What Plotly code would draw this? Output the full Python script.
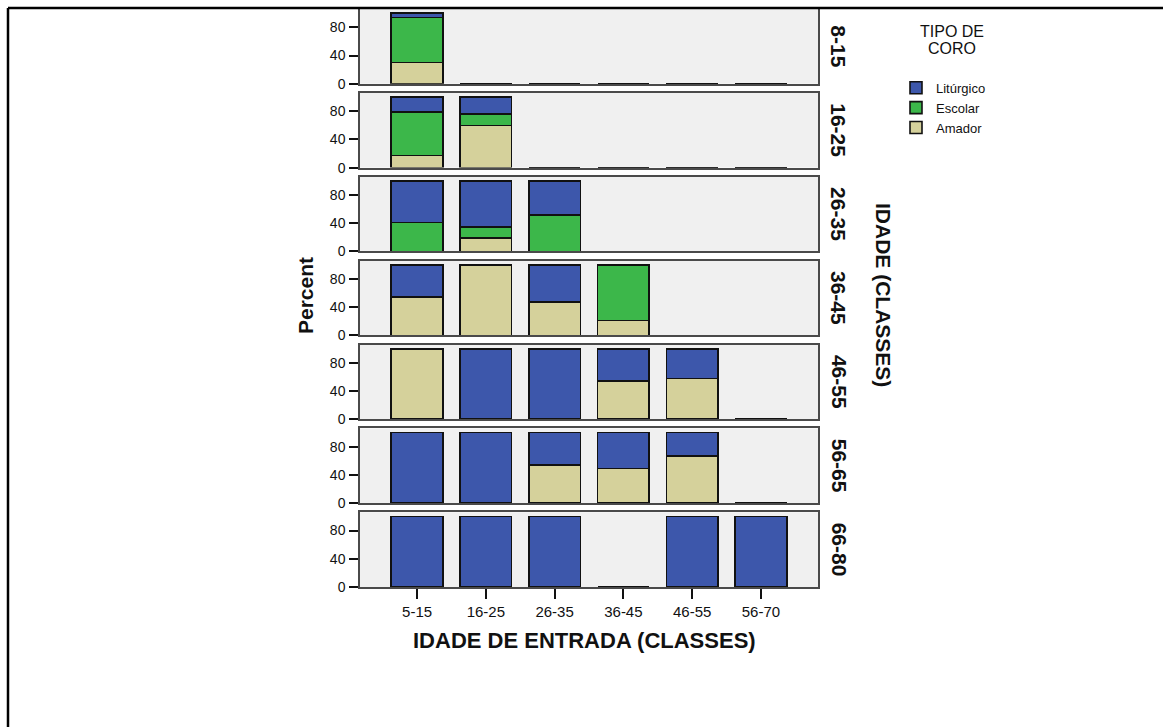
import plotly.graph_objects as go

# ---- data ----
categories = ["5-15", "16-25", "26-35", "36-45", "46-55", "56-70"]   # IDADE DE ENTRADA (CLASSES)
rows = ["8-15", "16-25", "26-35", "36-45", "46-55", "56-65", "66-80"]  # IDADE (CLASSES)
series_names = ["Amador", "Escolar", "Litúrgico"]

amador = [
    [30, 0, 0, 0, 0, 0],
    [17, 60, 0, 0, 0, 0],
    [0, 19, 0, 0, 0, 0],
    [54, 100, 47, 21, 0, 0],
    [100, 0, 0, 54, 58, 0],
    [0, 0, 54, 49, 67, 0],
    [0, 0, 0, 0, 0, 0],
]
escolar = [
    [64, 0, 0, 0, 0, 0],
    [62, 16, 0, 0, 0, 0],
    [41, 16, 52, 0, 0, 0],
    [0, 0, 0, 79, 0, 0],
    [0, 0, 0, 0, 0, 0],
    [0, 0, 0, 0, 0, 0],
    [0, 0, 0, 0, 0, 0],
]
liturgico = [
    [6, 0, 0, 0, 0, 0],
    [21, 24, 0, 0, 0, 0],
    [59, 65, 48, 0, 0, 0],
    [46, 0, 53, 0, 0, 0],
    [0, 100, 100, 46, 42, 0],
    [100, 100, 46, 51, 33, 0],
    [100, 100, 100, 0, 100, 100],
]
y_ticks = [0, 40, 80]

colors = {"Amador": "#d5d19b", "Escolar": "#3cb74a", "Litúrgico": "#3d57ab"}
values = {"Amador": amador, "Escolar": escolar, "Litúrgico": liturgico}

# ---- geometry (pixels) ----
W, H = 1163, 727
L, R, T, B = 360, 818, 7, 587
pw, ph = R - L, B - T
panel_h = 75
pitch = (ph - panel_h) / 6.0


def px_x(px):
    return (px - L) / pw


def px_y(py):
    return (B - py) / ph


fig = go.Figure()
font = "Liberation Sans, Arial, sans-serif"

for i, rname in enumerate(rows):
    ax = "" if i == 0 else str(i + 1)
    for s in series_names:
        fig.add_trace(go.Bar(
            x=categories, y=values[s][i], name=s,
            xaxis="x" + ax, yaxis="y" + ax,
            marker=dict(color=colors[s], line=dict(color="#111111", width=1.6)),
            legendgroup=s, showlegend=(i == 0),
            hovertemplate=rname + " / %{x}<br>" + s + ": %{y}%<extra></extra>",
        ))
    top = T + i * pitch
    bot = top + panel_h
    dom = [px_y(bot), px_y(top)]
    last = (i == len(rows) - 1)
    xa = dict(
        domain=[0, 1], anchor="y" + ax, range=[-0.83, 5.83], type="category",
        categoryorder="array", categoryarray=categories,
        showline=True, linecolor="#4a4a4a", linewidth=1.5, mirror=True,
        showgrid=False, zeroline=False,
        showticklabels=last, ticks="outside" if last else "",
        ticklen=10, tickwidth=1.5, tickcolor="#111111",
        tickfont=dict(family=font, size=15, color="#111111"),
    )
    if i > 0:
        xa["matches"] = "x"
    ya = dict(
        domain=dom, anchor="x" + ax, range=[0, 106],
        tickvals=y_ticks, ticks="outside", ticklen=9, tickwidth=1.5,
        tickcolor="#111111", showline=True, linecolor="#4a4a4a", linewidth=1.5,
        mirror=True, showgrid=False, zeroline=False,
        tickfont=dict(family=font, size=14, color="#111111"),
        ticklabelstandoff=1,
    )
    fig.layout["xaxis" + ax] = xa
    fig.layout["yaxis" + ax] = ya
    fig.add_annotation(
        text="<b>" + rname + "</b>", xref="paper", yref="paper",
        x=px_x(839), y=px_y((top + bot) / 2), showarrow=False, textangle=90,
        font=dict(family=font, size=21, color="#111111"),
        xanchor="center", yanchor="middle",
    )

fig.add_annotation(
    text="<b>Percent</b>", xref="paper", yref="paper", x=px_x(305), y=px_y(295),
    showarrow=False, textangle=-90, font=dict(family=font, size=21, color="#111111"),
    xanchor="center", yanchor="middle",
)
fig.add_annotation(
    text="<b>IDADE (CLASSES)</b>", xref="paper", yref="paper", x=px_x(884), y=px_y(294),
    showarrow=False, textangle=90, font=dict(family=font, size=21, color="#111111"),
    xanchor="center", yanchor="middle",
)
fig.add_annotation(
    text="<b>IDADE DE ENTRADA (CLASSES)</b>", xref="paper", yref="paper",
    x=px_x(584), y=px_y(641), showarrow=False,
    font=dict(family=font, size=22, color="#111111"),
    xanchor="center", yanchor="middle",
)
# legend title (two centred lines)
for txt, yy in (("TIPO DE", 30), ("CORO", 47)):
    fig.add_annotation(
        text=txt, xref="paper", yref="paper", x=px_x(952), y=px_y(yy),
        showarrow=False, font=dict(family=font, size=16, color="#111111"),
        xanchor="center", yanchor="middle",
    )

# outer frame lines (top and left)
fig.add_shape(type="line", xref="paper", yref="paper", x0=px_x(8), x1=px_x(1170),
              y0=px_y(6), y1=px_y(6), line=dict(color="black", width=2.5))
fig.add_shape(type="line", xref="paper", yref="paper", x0=px_x(8), x1=px_x(8),
              y0=px_y(6), y1=px_y(740), line=dict(color="black", width=2.5))

fig.update_layout(
    width=W, height=H, autosize=False,
    margin=dict(l=L, r=W - R, t=T, b=H - B, pad=0),
    barmode="stack", bargap=0.25,
    paper_bgcolor="white", plot_bgcolor="#f0f0f0",
    font=dict(family=font, color="#111111"),
    legend=dict(
        x=px_x(896), y=px_y(71), xanchor="left", yanchor="top",
        traceorder="reversed", bgcolor="rgba(0,0,0,0)",
        font=dict(family=font, size=13, color="#111111"),
        tracegroupgap=0, itemclick=False, itemdoubleclick=False,
    ),
)

fig.write_html("out.html", config={"displayModeBar": False},
               post_script="document.body.style.margin='0';")
